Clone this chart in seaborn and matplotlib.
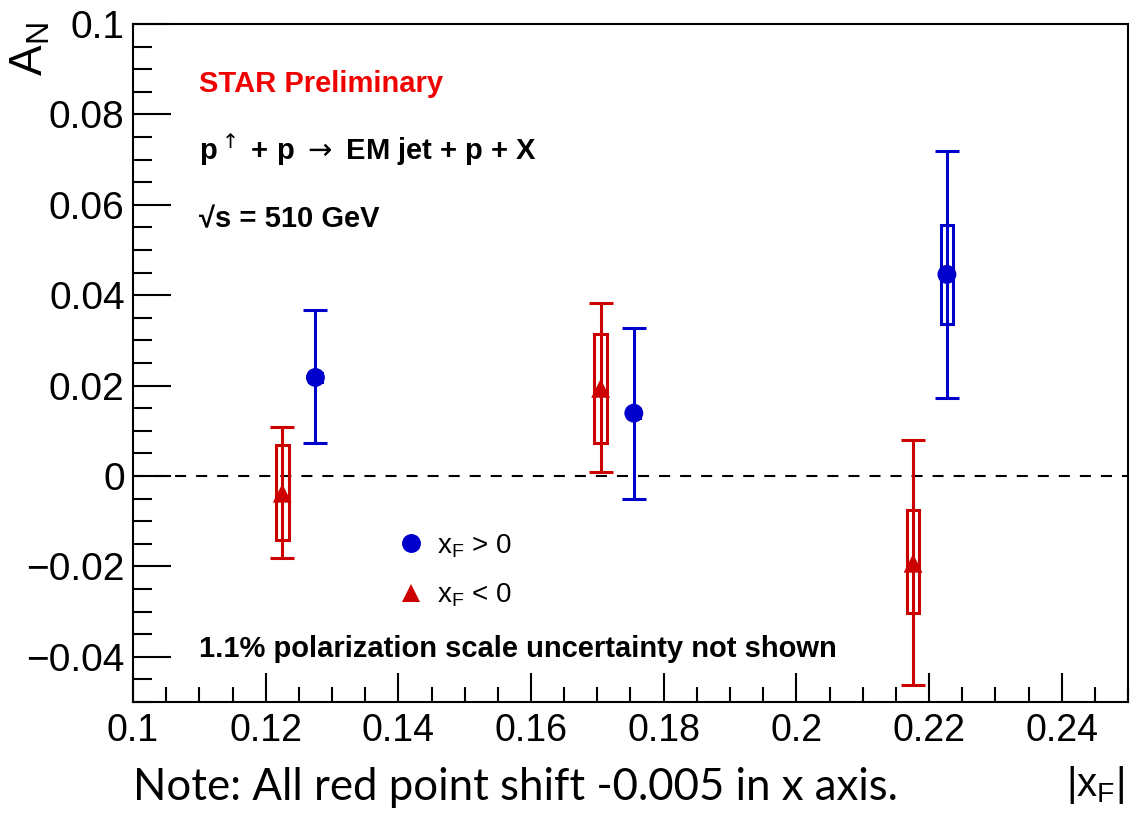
import numpy as np
import pandas as pd
import matplotlib
matplotlib.use("Agg")
import matplotlib.pyplot as plt
from matplotlib.ticker import MultipleLocator, FuncFormatter
from matplotlib.lines import Line2D
import seaborn as sns

# ---------------- data ----------------
x_blue = [0.1275, 0.1755, 0.2227]
an_blue = [0.0218, 0.0139, 0.0446]
stat_lo_blue = [0.0072, -0.0051, 0.0172]
stat_hi_blue = [0.0367, 0.0327, 0.0720]
sys_lo_blue = [0.0208, 0.0129, 0.0337]
sys_hi_blue = [0.0228, 0.0149, 0.0555]

x_red = [0.1225, 0.1705, 0.2176]
an_red = [-0.0038, 0.0194, -0.0193]
stat_lo_red = [-0.0182, 0.0008, -0.0462]
stat_hi_red = [0.0108, 0.0382, 0.0080]
sys_lo_red = [-0.0141, 0.0074, -0.0303]
sys_hi_red = [0.0068, 0.0315, -0.0075]

series_labels = ["x_F > 0", "x_F < 0"]
x_ticks = [0.10, 0.12, 0.14, 0.16, 0.18, 0.20, 0.22, 0.24]
y_ticks = [-0.04, -0.02, 0.0, 0.02, 0.04, 0.06, 0.08, 0.10]

BLUE = "#0000cc"
RED = "#cc0000"

sns.set_style("white")
plt.rcParams["font.family"] = ["Liberation Sans", "DejaVu Sans"]
plt.rcParams["mathtext.fontset"] = "dejavusans"
plt.rcParams["text.color"] = "black"
plt.rcParams["xtick.color"] = "black"
plt.rcParams["ytick.color"] = "black"

W, H = 1132, 818
fig = plt.figure(figsize=(W / 100, H / 100), dpi=100)
L, R, T, B = 133, 1128, 24, 702
ax = fig.add_axes([L / W, 1 - B / H, (R - L) / W, (B - T) / H])

df = pd.DataFrame({
    "x": x_blue + x_red,
    "AN": an_blue + an_red,
    "series": ["pos"] * len(x_blue) + ["neg"] * len(x_red),
})

lw = 2.2
box_w = 0.0019
for xs, ys, slo, shi, ylo, yhi, c in [
    (x_blue, an_blue, stat_lo_blue, stat_hi_blue, sys_lo_blue, sys_hi_blue, BLUE),
    (x_red, an_red, stat_lo_red, stat_hi_red, sys_lo_red, sys_hi_red, RED),
]:
    xs = np.array(xs); ys = np.array(ys)
    slo = np.array(slo); shi = np.array(shi)
    ylo = np.array(ylo); yhi = np.array(yhi)
    ax.errorbar(xs, ys, yerr=[ys - slo, shi - ys], fmt="none", ecolor=c,
                elinewidth=lw, capsize=8.6, capthick=lw, zorder=3)
    ax.bar(xs, yhi - ylo, bottom=ylo, width=box_w, fill=False,
           edgecolor=c, linewidth=lw, zorder=4)

sns.scatterplot(data=df, x="x", y="AN", hue="series", style="series",
                palette={"pos": BLUE, "neg": RED},
                markers={"pos": "o", "neg": "^"}, s=185, linewidth=0,
                legend=False, ax=ax, zorder=5)

ax.axhline(0, color="black", lw=1.5, ls=(0, (5.3, 4.8)), zorder=1)

ax.set_xlim(0.10, 0.25)
ax.set_ylim(-0.05, 0.10)
ax.set_xlabel("")
ax.set_ylabel("")

fmt = FuncFormatter(lambda v, p: f"{round(v, 4):g}".replace("-", "\u2212"))
ax.set_xticks(x_ticks)
ax.set_yticks(y_ticks)
ax.xaxis.set_major_formatter(fmt)
ax.yaxis.set_major_formatter(fmt)
ax.xaxis.set_minor_locator(MultipleLocator(0.005))
ax.yaxis.set_minor_locator(MultipleLocator(0.005))
ax.tick_params(axis="both", which="both", direction="in", width=1.5,
               left=True, bottom=True, top=False, right=False,
               labelsize=28, colors="black")
ax.tick_params(axis="y", which="major", length=27, pad=6)
ax.tick_params(axis="y", which="minor", length=14)
ax.tick_params(axis="x", which="major", length=21, pad=8)
ax.tick_params(axis="x", which="minor", length=11)
ax.tick_params(axis="x", which="major", labelsize=27)
for s in ax.spines.values():
    s.set_linewidth(1.5)
    s.set_color("black")

# axis titles
fig.text(31 / W, 1 - 22 / H, r"$\mathregular{A_N}$", rotation=90,
         ha="center", va="top", fontsize=33)
fig.text(1124 / W, 1 - 796 / H, r"$\mathregular{|x_F|}$", ha="right",
         va="baseline", fontsize=29)

# annotations
fig.text(199 / W, 1 - 92 / H, "STAR Preliminary", color="#f00000",
         fontsize=21, fontweight="bold", va="baseline")
fig.text(199 / W, 1 - 160 / H, r"p$^{\uparrow}$ + p $\rightarrow$ EM jet + p + X",
         fontsize=21, fontweight="bold", va="baseline")
fig.text(199 / W, 1 - 227 / H, "\u221as = 510 GeV", fontsize=21,
         fontweight="bold", va="baseline")
fig.text(199 / W, 1 - 657 / H, "1.1% polarization scale uncertainty not shown",
         fontsize=21, fontweight="bold", va="baseline")
fig.text(133 / W, 1 - 800 / H, "Note: All red point shift -0.005 in x axis.",
         fontsize=31.5, family=["Lato", "DejaVu Sans"], va="baseline")

handles = [
    Line2D([], [], ls="none", marker="o", markersize=13.6, color=BLUE, mew=0),
    Line2D([], [], ls="none", marker="^", markersize=13.6, color=RED, mew=0),
]
labels = [r"$\mathregular{x_F}$ > 0", r"$\mathregular{x_F}$ < 0"]
ax.legend(handles, labels, loc="upper left",
          bbox_to_anchor=(397 / W, 1 - 532 / H), bbox_transform=fig.transFigure,
          frameon=False, fontsize=20, borderpad=0, borderaxespad=0,
          handlelength=1.0, handletextpad=0.45, labelspacing=0.8)

fig.savefig("out.png", dpi=100)
